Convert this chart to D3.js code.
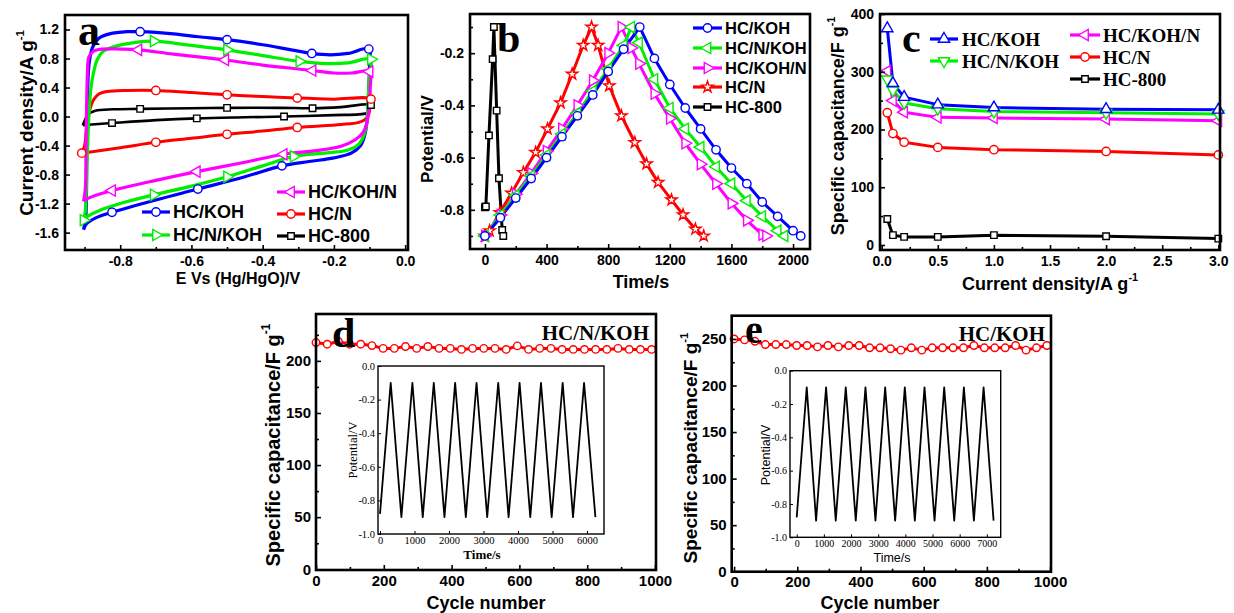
<!DOCTYPE html>
<html>
<head>
<meta charset="utf-8">
<script src="https://d3js.org/d3.v7.min.js"></script>
<style>
  body { margin: 0; background: #fff; }
  svg text { font-family: "Liberation Sans", Arial, sans-serif; font-weight: bold; }
  svg text.serif { font-family: "Liberation Serif", "Times New Roman", serif; }
</style>
</head>
<body>
<svg id="chart" width="1234" height="613"></svg>
<script>
// ---- data ----
const names = ["HC/KOH", "HC/N/KOH", "HC/KOH/N", "HC/N", "HC-800"];
const colors = ["#0000ff", "#00ee00", "#ff00ff", "#ff0000", "#000000"];

// (a) CV loops [E, j]
const cvKoh = [[-0.903,-1.56],[-0.897,-1.40],[-0.894,-0.60],[-0.892,0.20],[-0.888,0.70],[-0.878,0.95],[-0.86,1.08],[-0.83,1.14],[-0.78,1.17],[-0.744,1.17],[-0.65,1.14],[-0.58,1.10],[-0.50,1.06],[-0.40,0.99],[-0.32,0.92],[-0.262,0.87],[-0.21,0.85],[-0.16,0.87],[-0.102,0.93],
  [-0.100,0.70],[-0.103,0.30],[-0.107,-0.05],[-0.113,-0.25],[-0.125,-0.40],[-0.15,-0.50],[-0.20,-0.57],
  [-0.27,-0.62],[-0.346,-0.68],[-0.45,-0.83],[-0.582,-1.00],[-0.70,-1.15],[-0.823,-1.32],[-0.87,-1.40],[-0.895,-1.48],[-0.903,-1.56]];
const cvNKoh = [[-0.903,-1.43],[-0.898,-1.30],[-0.893,-0.60],[-0.888,0.0],[-0.882,0.40],[-0.875,0.60],[-0.865,0.78],[-0.85,0.89],[-0.82,0.96],[-0.76,1.02],[-0.706,1.04],[-0.60,0.98],[-0.50,0.92],[-0.40,0.84],[-0.297,0.76],[-0.22,0.73],[-0.16,0.74],[-0.096,0.79],
  [-0.100,0.60],[-0.104,0.20],[-0.108,-0.10],[-0.115,-0.25],[-0.13,-0.38],[-0.16,-0.46],[-0.22,-0.50],
  [-0.313,-0.55],[-0.40,-0.68],[-0.50,-0.83],[-0.60,-0.96],[-0.706,-1.08],[-0.80,-1.20],[-0.86,-1.30],[-0.89,-1.37],[-0.903,-1.43]];
const cvKohN = [[-0.903,-1.17],[-0.898,-1.00],[-0.896,-0.40],[-0.894,0.20],[-0.892,0.60],[-0.888,0.82],[-0.875,0.90],[-0.85,0.93],[-0.80,0.93],[-0.749,0.92],[-0.65,0.86],[-0.505,0.78],[-0.40,0.71],[-0.26,0.635],[-0.20,0.60],[-0.15,0.60],[-0.10,0.62],
  [-0.098,0.40],[-0.102,0.10],[-0.108,-0.10],[-0.118,-0.22],[-0.14,-0.32],[-0.18,-0.41],[-0.25,-0.47],
  [-0.341,-0.52],[-0.45,-0.63],[-0.585,-0.76],[-0.70,-0.88],[-0.823,-1.02],[-0.87,-1.09],[-0.895,-1.14],[-0.903,-1.17]];
const cvN = [[-0.908,-0.505],[-0.90,-0.40],[-0.893,-0.10],[-0.885,0.10],[-0.875,0.23],[-0.86,0.31],[-0.837,0.345],[-0.78,0.36],[-0.70,0.36],[-0.60,0.33],[-0.50,0.30],[-0.40,0.275],[-0.303,0.254],[-0.20,0.24],[-0.096,0.24],
  [-0.098,0.15],[-0.103,0.02],[-0.112,-0.04],[-0.13,-0.08],[-0.18,-0.11],
  [-0.303,-0.15],[-0.40,-0.20],[-0.50,-0.245],[-0.60,-0.30],[-0.70,-0.355],[-0.80,-0.43],[-0.908,-0.505]];
const cv800 = [[-0.905,-0.12],[-0.90,-0.06],[-0.89,0.03],[-0.87,0.08],[-0.82,0.10],[-0.744,0.106],[-0.60,0.115],[-0.50,0.12],[-0.35,0.12],[-0.26,0.115],[-0.18,0.13],[-0.096,0.16],
  [-0.100,0.10],[-0.105,0.05],[-0.13,0.03],
  [-0.20,0.02],[-0.34,0.0],[-0.45,-0.01],[-0.585,-0.025],[-0.70,-0.05],[-0.823,-0.09],[-0.88,-0.11],[-0.905,-0.12]];
const cvKohMarks = [[-0.744,1.17],[-0.50,1.06],[-0.262,0.87],[-0.102,0.93],[-0.346,-0.68],[-0.582,-1.00],[-0.823,-1.32]];
const cvNKohMarks = [[-0.706,1.04],[-0.50,0.92],[-0.297,0.76],[-0.096,0.79],[-0.313,-0.55],[-0.50,-0.83],[-0.706,-1.08],[-0.903,-1.43]];
const cvKohNMarks = [[-0.749,0.92],[-0.505,0.78],[-0.26,0.635],[-0.10,0.62],[-0.341,-0.52],[-0.585,-0.76],[-0.823,-1.02]];
const cvNMarks = [[-0.70,0.36],[-0.50,0.30],[-0.303,0.254],[-0.096,0.24],[-0.303,-0.15],[-0.50,-0.245],[-0.70,-0.355],[-0.908,-0.505]];
const cv800Marks = [[-0.744,0.106],[-0.50,0.12],[-0.26,0.115],[-0.096,0.16],[-0.34,0.0],[-0.585,-0.025],[-0.823,-0.09]];
const aXTicks = [-0.8, -0.6, -0.4, -0.2, 0.0];
const aXMinor = [-0.9, -0.7, -0.5, -0.3, -0.1];
const aYTicks = [-1.6, -1.2, -0.8, -0.4, 0.0, 0.4, 0.8, 1.2];

// (b) charge/discharge: time (s) and potential (V)
const gcdKohT = [0,100,200,300,400,500,600,700,800,900,1005,1100,1200,1300,1400,1500,1600,1700,1800,1900,2000,2050];
const gcdKohV = [-0.90,-0.83,-0.755,-0.68,-0.60,-0.52,-0.44,-0.36,-0.27,-0.185,-0.10,-0.22,-0.32,-0.41,-0.49,-0.57,-0.64,-0.70,-0.77,-0.825,-0.88,-0.90];
const gcdNKohT = [0,100,200,300,400,500,600,700,800,900,950,1000,1100,1200,1300,1400,1500,1600,1700,1800,1900,1945];
const gcdNKohV = [-0.90,-0.82,-0.745,-0.67,-0.59,-0.51,-0.43,-0.345,-0.26,-0.17,-0.10,-0.16,-0.30,-0.41,-0.49,-0.56,-0.635,-0.70,-0.765,-0.825,-0.88,-0.90];
const gcdKohNT = [0,100,200,300,400,500,600,700,800,886,950,1000,1100,1200,1300,1400,1500,1600,1700,1800,1825];
const gcdKohNV = [-0.90,-0.82,-0.74,-0.66,-0.575,-0.49,-0.40,-0.305,-0.20,-0.10,-0.18,-0.24,-0.355,-0.45,-0.545,-0.625,-0.70,-0.775,-0.84,-0.895,-0.90];
const gcdNT = [0,30,97,173,249,329,406,491,566,638,692,735,807,886,973,1049,1124,1211,1286,1366,1420];
const gcdNV = [-0.90,-0.88,-0.81,-0.736,-0.657,-0.58,-0.49,-0.39,-0.28,-0.17,-0.10,-0.17,-0.325,-0.44,-0.542,-0.624,-0.695,-0.762,-0.819,-0.874,-0.90];
const gcd800T = [0,6,26,50,58,76,91,112,119];
const gcd800V = [-0.79,-0.787,-0.515,-0.223,-0.10,-0.42,-0.679,-0.877,-0.90];
const bXTicks = [0, 400, 800, 1200, 1600, 2000];
const bXMinor = [200, 600, 1000, 1400, 1800];
const bYTicks = [-0.8, -0.6, -0.4, -0.2];
const bYMinor = [-0.9, -0.7, -0.5, -0.3, -0.1];

// (c) rate capability
const cRate = [0.05, 0.1, 0.2, 0.5, 1, 2, 3];
const cKoh = [375, 280, 256, 243, 238, 235, 234];
const cNKoh = [287, 268, 246, 236, 231, 229, 227];
const cKohN = [301, 250, 230, 221, 220, 218, 215];
const cN = [229, 193, 178, 169, 165, 162, 156];
const c800 = [45, 17, 14, 14, 17, 15, 11];
const cXTicks = [0, 0.5, 1.0, 1.5, 2.0, 2.5, 3.0];
const cXMinor = [0.25, 0.75, 1.25, 1.75, 2.25, 2.75];
const cYTicks = [0, 100, 200, 300, 400];
const cYMinor = [50, 150, 250, 350];

// (d), (e) cycling
const cycles = [0,33,66,99,132,165,198,231,264,297,330,363,396,429,462,495,528,561,594,627,660,693,726,759,792,825,858,891,924,957,990];
const dCap = [217.6,216,218.6,216,216,214.7,212,212,213.8,212,213.8,212,212,211,212,212,212,211,214.4,211,212,212,211,211,211,211,211,212,211,211,211];
const eCap = [250,249,247.5,244,244,244,243,243,241.5,243,241.5,243,243,240.5,240.5,239.5,238,240.5,238,240.5,240.5,240.5,240.5,243,240.5,240.5,240.5,243,238,240.5,243];
const cycXTicks = [0, 200, 400, 600, 800, 1000];
const cycXMinor = [100, 300, 500, 700, 900];
const dYTicks = [0, 50, 100, 150, 200];
const dYMinor = [25, 75, 125, 175, 225];
const eYTicks = [0, 50, 100, 150, 200, 250];
const eYMinor = [25, 75, 125, 175, 225];

// insets
const dInsetT = [0,310,620,939,1239,1559,1868,2178,2488,2798,3107,3427,3727,4046,4356,4666,4976,5295,5595,5915,6244];
const eInsetT = [0,369,713,1081,1437,1806,2174,2531,2899,3256,3624,3980,4349,4705,5074,5430,5799,6155,6523,6880,7248];
const insetV = [-0.88,-0.1,-0.9,-0.1,-0.9,-0.1,-0.9,-0.1,-0.9,-0.1,-0.9,-0.1,-0.9,-0.1,-0.9,-0.1,-0.9,-0.1,-0.9,-0.1,-0.9];
const insetYTicks = [-1.0, -0.8, -0.6, -0.4, -0.2, 0.0];
const dInsetXTicks = [0, 1000, 2000, 3000, 4000, 5000, 6000];
const eInsetXTicks = [0, 1000, 2000, 3000, 4000, 5000, 6000, 7000];

// ---- helpers ----
const svg = d3.select("#chart");
const symTypes = { circle: d3.symbolCircle, square: d3.symbolSquare, star: d3.symbolStar,
  triUp: d3.symbolTriangle, triDown: d3.symbolTriangle, triLeft: d3.symbolTriangle, triRight: d3.symbolTriangle };
const symRot = { triDown: 180, triLeft: -90, triRight: 90 };
const symSize = { circle: 55, square: 42, star: 40, triUp: 55, triDown: 55, triLeft: 55, triRight: 55 };

function marks(g, pts, x, y, type, color, k) {
  g.append("g").selectAll("path").data(pts).join("path")
    .attr("d", d3.symbol().type(symTypes[type]).size(symSize[type] * (k || 1)))
    .attr("transform", d => `translate(${x(d[0])},${y(d[1])}) rotate(${symRot[type] || 0})`)
    .attr("fill", "white").attr("stroke", color).attr("stroke-width", 1.4);
}

function curve(g, pts, x, y, color, w, c) {
  g.append("path").datum(pts)
    .attr("d", d3.line().x(d => x(d[0])).y(d => y(d[1])).curve(c || d3.curveLinear))
    .attr("fill", "none").attr("stroke", color).attr("stroke-width", w)
    .attr("stroke-linejoin", "round");
}

function axes(g, x, y, o) {
  const [xa, xb] = x.range(), [ya, yb] = y.range();
  const len = o.len || 5, cls = o.serif ? "serif" : null;
  const bx = g.append("g").attr("transform", `translate(0,${ya})`)
    .call(d3.axisBottom(x).tickValues(o.xt).tickSize(-len).tickPadding(o.pad || 5).tickFormat(o.xf));
  const ly = g.append("g").attr("transform", `translate(${xa},0)`)
    .call(d3.axisLeft(y).tickValues(o.yt).tickSize(-len).tickPadding(o.pad || 5).tickFormat(o.yf));
  [bx, ly].forEach(a => {
    a.select(".domain").remove();
    a.selectAll("line").attr("stroke", "#000").attr("stroke-width", o.tw || 1.6);
    a.selectAll("text").attr("fill", "#000").attr("font-size", o.fs).attr("class", cls)
      .style("font-weight", o.bold === false ? "normal" : "bold");
  });
  if (o.xm) {
    const m = g.append("g").attr("transform", `translate(0,${ya})`)
      .call(d3.axisBottom(x).tickValues(o.xm).tickSize(-len * 0.6).tickFormat(""));
    m.select(".domain").remove();
    m.selectAll("line").attr("stroke", "#000").attr("stroke-width", o.tw || 1.6);
  }
  if (o.ym) {
    const m = g.append("g").attr("transform", `translate(${xa},0)`)
      .call(d3.axisLeft(y).tickValues(o.ym).tickSize(-len * 0.6).tickFormat(""));
    m.select(".domain").remove();
    m.selectAll("line").attr("stroke", "#000").attr("stroke-width", o.tw || 1.6);
  }
}

function frame(g, x, y, w) {
  const [xa, xb] = x.range(), [ya, yb] = y.range();
  g.append("rect").attr("x", xa).attr("y", yb).attr("width", xb - xa).attr("height", ya - yb)
    .attr("fill", "none").attr("stroke", "#000").attr("stroke-width", w);
}

function text(g, s, x, y, fs, o) {
  o = o || {};
  const t = g.append("text").attr("x", x).attr("y", y).attr("font-size", fs)
    .attr("text-anchor", o.anchor || "start").attr("class", o.serif ? "serif" : null)
    .style("font-weight", o.bold === false ? "normal" : "bold");
  if (o.rot) t.attr("transform", `rotate(-90,${x},${y})`);
  t.text(s);
  if (o.sup) t.append("tspan").attr("font-size", fs * 0.6).attr("dy", -fs * 0.5).text(o.sup);
  return t;
}

function legend(g, items, xl, xr, xt, fs, serif) {
  const id = d => d;
  items.forEach(it => {
    g.append("line").attr("x1", xl).attr("x2", xr).attr("y1", it.y).attr("y2", it.y)
      .attr("stroke", it.color).attr("stroke-width", 3.2);
    marks(g, [[(xl + xr) / 2, it.y]], id, id, it.sym, it.color);
    text(g, it.name, xt, it.y, fs, { serif: serif }).attr("dy", "0.36em");
  });
}

const f1 = d => d.toFixed(1);
const f0 = d => String(d);

// ---- panel a ----
{
  const g = svg.append("g");
  const x = d3.scaleLinear().domain([-0.955, 0.008]).range([65, 408]);
  const y = d3.scaleLinear().domain([-1.84, 1.40]).range([250, 15]);
  const cr = d3.curveCatmullRom.alpha(0.5);
  curve(g, cv800, x, y, colors[4], 2.6, cr);
  curve(g, cvN, x, y, colors[3], 3, cr);
  curve(g, cvKoh, x, y, colors[0], 3.2, cr);
  curve(g, cvNKoh, x, y, colors[1], 3.2, cr);
  curve(g, cvKohN, x, y, colors[2], 3.2, cr);
  marks(g, cv800Marks, x, y, "square", colors[4]);
  marks(g, cvNMarks, x, y, "circle", colors[3]);
  marks(g, cvKohMarks, x, y, "circle", colors[0]);
  marks(g, cvNKohMarks, x, y, "triRight", colors[1]);
  marks(g, cvKohNMarks, x, y, "triLeft", colors[2]);
  axes(g, x, y, { xt: aXTicks, xm: aXMinor, yt: aYTicks, xf: f1, yf: f1, fs: 14, pad: 6 });
  frame(g, x, y, 2.6);
  text(g, "a", 78, 45, 44, { serif: true });
  legend(g, [
    { name: names[0], color: colors[0], sym: "circle", y: 212 },
    { name: names[1], color: colors[1], sym: "triRight", y: 235 }], 142, 170, 173, 18);
  legend(g, [
    { name: names[2], color: colors[2], sym: "triLeft", y: 192 },
    { name: names[3], color: colors[3], sym: "circle", y: 214 },
    { name: names[4], color: colors[4], sym: "square", y: 236 }], 277, 305, 308, 18);
  text(g, "E Vs (Hg/HgO)/V", 238, 284, 16, { anchor: "middle" });
  text(g, "Current density/A g", 33, 123, 19, { anchor: "middle", rot: true, sup: "-1" });
}

// ---- panel b ----
{
  const g = svg.append("g");
  const x = d3.scaleLinear().domain([-97, 2110]).range([470, 810]);
  const y = d3.scaleLinear().domain([-0.95, -0.05]).range([249, 14]);
  const sets = [
    [gcd800T, gcd800V, 4, "square"],
    [gcdNT, gcdNV, 3, "star"],
    [gcdKohNT, gcdKohNV, 2, "triRight"],
    [gcdNKohT, gcdNKohV, 1, "triLeft"],
    [gcdKohT, gcdKohV, 0, "circle"]];
  sets.forEach(([t, v, i]) => curve(g, t.map((d, k) => [d, v[k]]), x, y, colors[i], 3));
  sets.forEach(([t, v, i, s]) => marks(g, t.map((d, k) => [d, v[k]]), x, y, s, colors[i]));
  axes(g, x, y, { xt: bXTicks, xm: bXMinor, yt: bYTicks, ym: bYMinor, xf: f0, yf: f1, fs: 14, pad: 6 });
  frame(g, x, y, 2.6);
  text(g, "b", 497, 52, 42, { serif: true });
  legend(g, [
    { name: names[0], color: colors[0], sym: "circle", y: 28 },
    { name: names[1], color: colors[1], sym: "triLeft", y: 48 },
    { name: names[2], color: colors[2], sym: "triRight", y: 68 },
    { name: names[3], color: colors[3], sym: "star", y: 87 },
    { name: names[4], color: colors[4], sym: "square", y: 107 }], 693, 722, 725, 16.5);
  text(g, "Time/s", 641, 288, 18, { anchor: "middle" });
  text(g, "Potential/V", 433, 139, 17, { anchor: "middle", rot: true });
}

// ---- panel c ----
{
  const g = svg.append("g");
  const x = d3.scaleLinear().domain([-0.015, 3.015]).range([880, 1220]);
  const y = d3.scaleLinear().domain([-8.7, 400]).range([250, 14]);
  const sets = [[c800, 4, "square"], [cN, 3, "circle"], [cKohN, 2, "triLeft"], [cNKoh, 1, "triDown"], [cKoh, 0, "triUp"]];
  sets.forEach(([v, i]) => curve(g, cRate.map((d, k) => [d, v[k]]), x, y, colors[i], 3));
  sets.forEach(([v, i, s]) => marks(g, cRate.map((d, k) => [d, v[k]]), x, y, s, colors[i]));
  axes(g, x, y, { xt: cXTicks, xm: cXMinor, yt: cYTicks, ym: cYMinor, xf: f1, yf: f0, fs: 14, pad: 6 });
  frame(g, x, y, 2.6);
  text(g, "c", 902, 52, 42, { serif: true });
  legend(g, [
    { name: names[0], color: colors[0], sym: "triUp", y: 39 },
    { name: names[1], color: colors[1], sym: "triDown", y: 61 }], 930, 958, 962, 19, true);
  legend(g, [
    { name: names[2], color: colors[2], sym: "triLeft", y: 35 },
    { name: names[3], color: colors[3], sym: "circle", y: 57 },
    { name: names[4], color: colors[4], sym: "square", y: 79 }], 1070, 1100, 1103, 19, true);
  text(g, "Current density/A g", 1050, 290, 18, { anchor: "middle", sup: "-1" });
  text(g, "Specific capacitance/F g", 844, 126, 18, { anchor: "middle", rot: true, sup: "-1" });
}

// ---- panels d and e ----
function cyclePanel(cap, o) {
  const g = svg.append("g");
  const x = d3.scaleLinear().domain(o.xd).range(o.xr);
  const y = d3.scaleLinear().domain(o.yd).range(o.yr);
  const pts = cycles.map((d, k) => [d, cap[k]]);
  curve(g, pts, x, y, "#ff0000", 3);
  marks(g, pts, x, y, "circle", "#ff0000", 0.8);
  axes(g, x, y, { xt: cycXTicks, xm: cycXMinor, yt: o.yt, ym: o.ym, xf: f0, yf: f0, fs: 15, pad: 5 });
  frame(g, x, y, 2.6);
  // inset
  const ix = d3.scaleLinear().domain(o.ixd).range(o.ixr);
  const iy = d3.scaleLinear().domain([-1, 0]).range(o.iyr);
  g.append("rect").attr("x", o.ixr[0]).attr("y", o.iyr[1]).attr("width", o.ixr[1] - o.ixr[0])
    .attr("height", o.iyr[0] - o.iyr[1]).attr("fill", "white");
  curve(g, o.it.map((d, k) => [d, insetV[k]]), ix, iy, "#000", 1.8);
  axes(g, ix, iy, { xt: o.ixt, yt: insetYTicks, xf: f0, yf: f1, fs: o.ifs, pad: 3, len: 3, tw: 1,
    serif: true, bold: false });
  frame(g, ix, iy, 1.4);
  text(g, o.letter, o.lx, o.ly, o.lfs, { serif: true });
  text(g, o.label, o.labx, o.laby, 21, { serif: true, anchor: "end" });
  text(g, "Cycle number", o.cx, 609, 18, { anchor: "middle" });
  text(g, "Specific capacitance/F g", o.tx, o.ty, o.tfs, { anchor: "middle", rot: true, sup: "-1" });
  text(g, "Potential/V", o.px, o.py, 12.5, { anchor: "middle", rot: true, serif: o.iserif, bold: false });
  text(g, "Time/s", o.tsx, o.tsy, o.iserif ? 13 : 12.5, { anchor: "middle", serif: o.iserif, bold: o.iserif });
}

cyclePanel(dCap, {
  xd: [0, 1003], xr: [316, 656], yd: [-0.7, 245], yr: [570, 314], yt: dYTicks, ym: dYMinor,
  ixd: [-58, 6493], ixr: [378, 604], iyr: [534, 366], it: dInsetT, ixt: dInsetXTicks, ifs: 10.5,
  letter: "d", lx: 332, ly: 347, lfs: 42, label: "HC/N/KOH", labx: 649, laby: 340,
  cx: 486, tx: 280, ty: 445, tfs: 20, px: 357, py: 450, tsx: 482, tsy: 559, iserif: true
});
cyclePanel(eCap, {
  xd: [-7.6, 1003], xr: [731.7, 1051], yd: [0, 275], yr: [571.7, 315.7], yt: eYTicks, ym: eYMinor,
  ixd: [-247, 7510], ixr: [790, 1000.7], iyr: [537.3, 370.7], it: eInsetT, ixt: eInsetXTicks, ifs: 10,
  letter: "e", lx: 745, ly: 343, lfs: 40, label: "HC/KOH", labx: 1045, laby: 341,
  cx: 880, tx: 697, ty: 448, tfs: 19, px: 770, py: 455, tsx: 892, tsy: 562, iserif: false
});
</script>
</body>
</html>
